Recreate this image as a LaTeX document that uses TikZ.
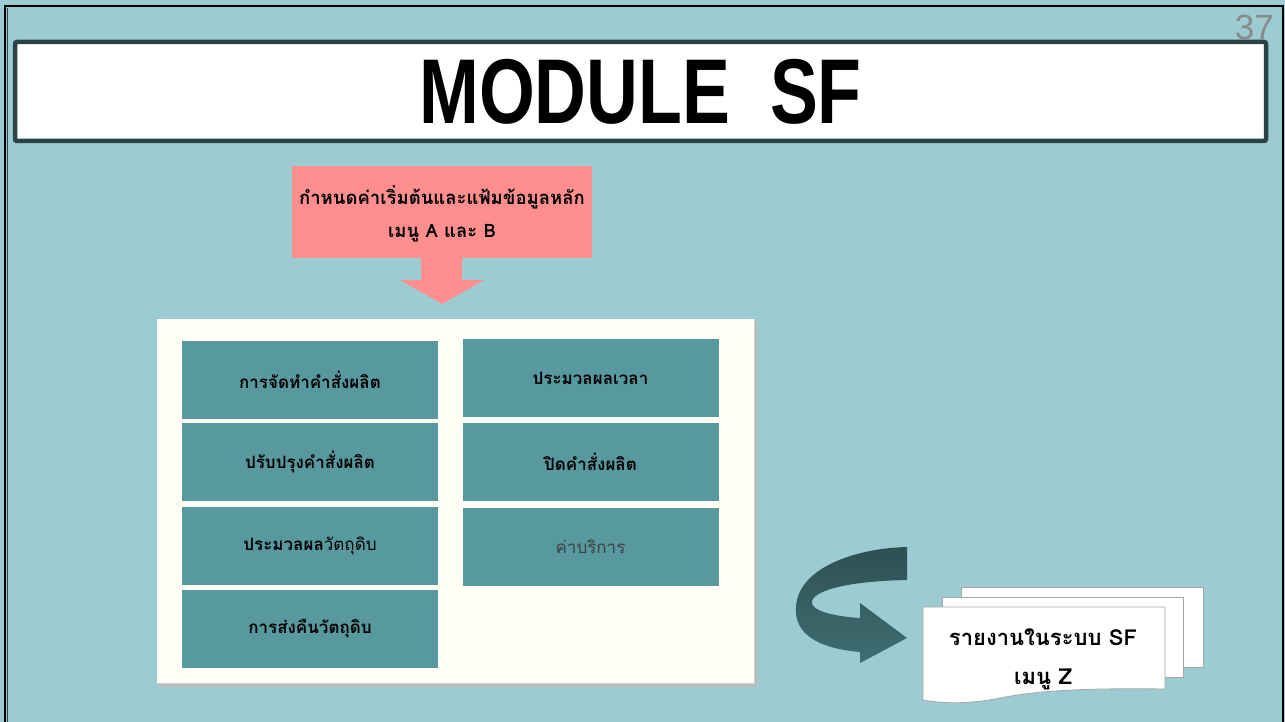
\documentclass[tikz,border=0pt]{standalone}
\usepackage{fontspec}
\setmainfont{Liberation Sans}
\newfontfamily\thai[Script=Thai]{Loma}
\usetikzlibrary{shadings}
\definecolor{bg}{HTML}{9DCBD2}
\definecolor{titleborder}{HTML}{2B4347}
\definecolor{pinkbox}{HTML}{FF8F8F}
\definecolor{tealbox}{HTML}{57999E}
\definecolor{ivory}{HTML}{FFFFF6}
\definecolor{arrowtop}{HTML}{2E5053}
\definecolor{arrowbot}{HTML}{3F6E72}
\definecolor{pagenum}{HTML}{8A8A8A}
\tikzset{
  menubox/.style={fill=tealbox, draw=none, minimum width=256pt, minimum height=78pt, inner sep=0pt, font=\thai\fontsize{17}{20}\selectfont\bfseries, text=black},
  docpage/.style={fill=white, draw=gray!70, line width=0.8pt},
}
\begin{document}
\begin{tikzpicture}[x=1pt,y=-1pt]
\useasboundingbox (0,0) rectangle (1285,722);
% background and frame
\fill[bg] (0,0) rectangle (1285,722);
\draw[black, line width=2pt] (5,724) -- (5,6) -- (1283,6) -- (1283,724);
\draw[titleborder, line width=1.2pt] (7.5,724) -- (7.5,8);
% title bar
\draw[titleborder, line width=4.5pt, fill=white, rounded corners=2pt] (15,42) rectangle (1266,141);
\node (title) at (640.5,92) {\scalebox{0.78}[1]{\fontsize{92}{92}\selectfont\bfseries MODULE\ \ SF}};
\node[text=pagenum, anchor=east, inner sep=0pt] (pnum) at (1274,27) {\fontsize{35}{35}\selectfont 37};
% pink box + arrow
\fill[pinkbox] (292,166) rectangle (592,258);
\node[align=center, font=\thai\fontsize{18.5}{33}\selectfont\bfseries] (setup) at (442,214) {กำหนดค่าเริ่มต้นและแฟ้มข้อมูลหลัก\\เมนู A และ B};
\fill[pinkbox] (421,257) -- (462,257) -- (462,280) -- (484,280) -- (442,304) -- (400,280) -- (421,280) -- cycle;
% main panel
\fill[gray!55] (159,321) rectangle (757,687);
\fill[ivory] (157,319) rectangle (754,684);
\draw[white, line width=1.5pt] (158,684) -- (158,320) -- (754,320);
\draw[gray!35, line width=1pt] (157,683.5) -- (754,683.5) -- (754,319);
% menu boxes
\node[menubox] (b1) at (310,379.5) {การจัดทำคำสั่งผลิต};
\node[menubox] (b2) at (310,462) {ปรับปรุงคำสั่งผลิต};
\node[menubox] (b3) at (310,546) {ประมวลผล\mdseries วัตถุดิบ};
\node[menubox] (b4) at (310,628.5) {การส่งคืนวัตถุดิบ};
\node[menubox] (b5) at (590.5,378) {ประมวลผลเวลา};
\node[menubox] (b6) at (590.5,462) {ปิดคำสั่งผลิต};
\node[menubox, font=\thai\fontsize{17}{20}\selectfont, text=black!75] (b7) at (590.5,547) {ค่าบริการ};
% curved arrow
\shade[top color=arrowtop, bottom color=arrowbot]
  (907,547) -- (907,580)
  .. controls (850,581) and (815,590) .. (812,601)
  .. controls (810,610) and (830,616) .. (860,618)
  -- (860,603) -- (907,638) -- (860,663) -- (860,652)
  .. controls (815,648) and (790,632) .. (797,600)
  .. controls (805,565) and (860,548) .. (907,547) -- cycle;
% document stack
\draw[docpage] (961,587) rectangle (1203,667);
\draw[docpage] (942,597) rectangle (1183,677);
\draw[docpage] (923,607) -- (1165,607) -- (1165,689)
  .. controls (1090,688) and (1040,690) .. (1000,698)
  .. controls (965,705) and (940,703) .. (923,700) -- cycle;
\node[align=center, font=\thai\fontsize{22}{39}\selectfont\bfseries] (report) at (1043,659) {รายงานในระบบ SF\\เมนู Z};
\end{tikzpicture}
\end{document}
